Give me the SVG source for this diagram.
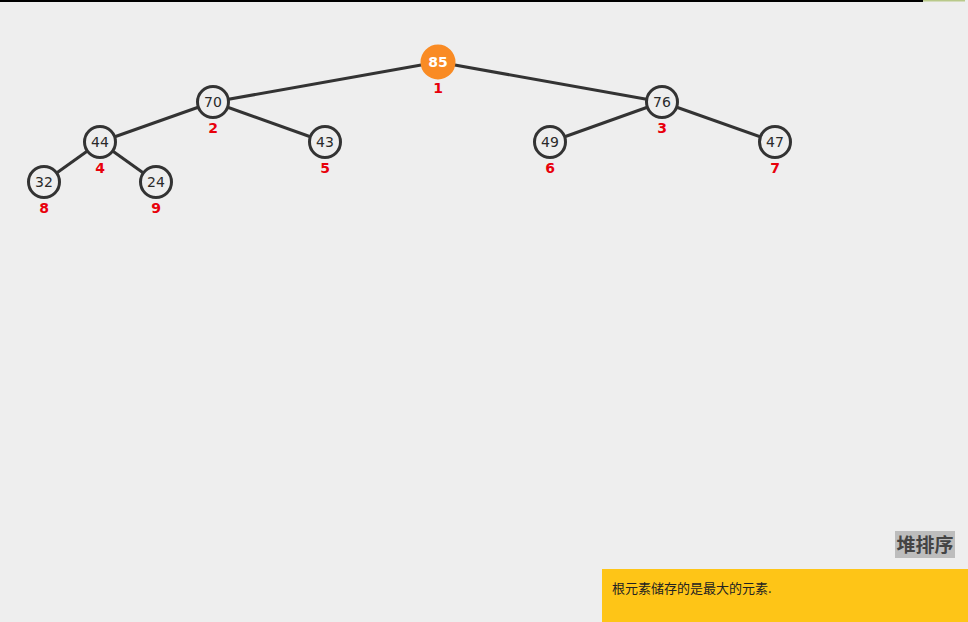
<svg xmlns="http://www.w3.org/2000/svg" width="968" height="622" viewBox="0 0 968 622">
<style>
.edge{stroke:#333;stroke-width:3;fill:none}
.node circle{fill:#eeeeee;stroke:#333;stroke-width:3}
.node text.v{font-family:"DejaVu Sans","Liberation Sans",sans-serif;font-size:14px;fill:#2a2a2a;text-anchor:middle}
.node text.i{font-family:"DejaVu Sans","Liberation Sans",sans-serif;font-size:14px;font-weight:bold;fill:#e8000b;text-anchor:middle}
#n1 circle{fill:#f98b24;stroke:#f98b24}
#n1 text.v{fill:#fff;font-weight:bold}
</style>
<rect width="968" height="622" fill="#eeeeee"/>
<rect x="0" y="0" width="923" height="2" fill="#000"/>
<rect x="923" y="0" width="42" height="1.5" fill="#b9c98a"/>
<g id="connectors">
<line class="edge" x1="438" y1="62" x2="213" y2="102"/>
<line class="edge" x1="438" y1="62" x2="662" y2="102"/>
<line class="edge" x1="213" y1="102" x2="100" y2="142"/>
<line class="edge" x1="213" y1="102" x2="325" y2="142"/>
<line class="edge" x1="662" y1="102" x2="550" y2="142"/>
<line class="edge" x1="662" y1="102" x2="775" y2="142"/>
<line class="edge" x1="100" y1="142" x2="44" y2="182"/>
<line class="edge" x1="100" y1="142" x2="156" y2="182"/>
</g>
<g id="n1" class="node"><circle cx="438" cy="62" r="16"/><text class="v" x="438" y="67">85</text><text class="i" x="438" y="93">1</text></g>
<g id="n2" class="node"><circle cx="213" cy="102" r="15.5"/><text class="v" x="213" y="107">70</text><text class="i" x="213" y="133">2</text></g>
<g id="n3" class="node"><circle cx="662" cy="102" r="15.5"/><text class="v" x="662" y="107">76</text><text class="i" x="662" y="133">3</text></g>
<g id="n4" class="node"><circle cx="100" cy="142" r="15.5"/><text class="v" x="100" y="147">44</text><text class="i" x="100" y="173">4</text></g>
<g id="n5" class="node"><circle cx="325" cy="142" r="15.5"/><text class="v" x="325" y="147">43</text><text class="i" x="325" y="173">5</text></g>
<g id="n6" class="node"><circle cx="550" cy="142" r="15.5"/><text class="v" x="550" y="147">49</text><text class="i" x="550" y="173">6</text></g>
<g id="n7" class="node"><circle cx="775" cy="142" r="15.5"/><text class="v" x="775" y="147">47</text><text class="i" x="775" y="173">7</text></g>
<g id="n8" class="node"><circle cx="44" cy="182" r="15.5"/><text class="v" x="44" y="187">32</text><text class="i" x="44" y="213">8</text></g>
<g id="n9" class="node"><circle cx="156" cy="182" r="15.5"/><text class="v" x="156" y="187">24</text><text class="i" x="156" y="213">9</text></g>
<g id="title">
<rect x="895" y="531" width="60" height="27" fill="#bdbdbd"/>
<text x="925" y="552" font-family="'Noto Sans CJK SC',sans-serif" font-size="19" font-weight="bold" fill="#444" text-anchor="middle">堆排序</text>
</g>
<g id="caption">
<rect x="602" y="569" width="366" height="53" fill="#fec517"/>
<text x="612" y="593" font-family="'Noto Sans CJK SC',sans-serif" font-size="13" fill="#222">根元素储存的是最大的元素.</text>
</g>
</svg>
